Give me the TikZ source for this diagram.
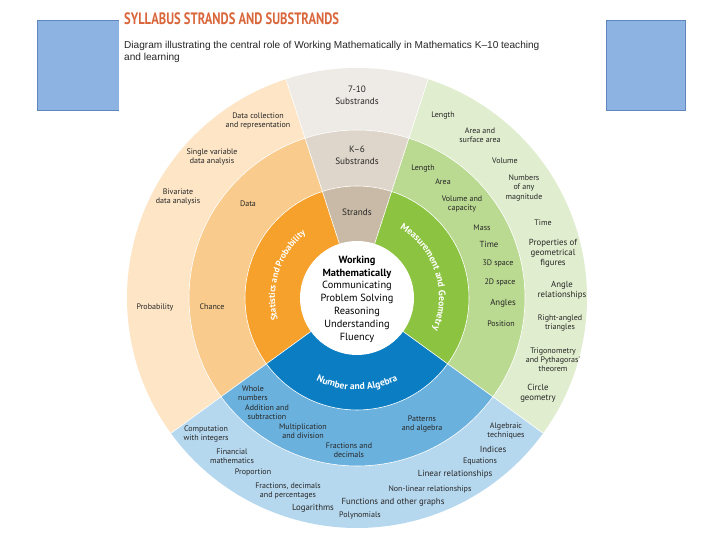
\documentclass[tikz,border=0pt]{standalone}
\usepackage{fontspec}
\setmainfont{Liberation Sans}
\newfontfamily\diagfont{PT Sans}
\usetikzlibrary{calc, decorations.text}

\definecolor{ringGrayA}{HTML}{EEEAE5}
\definecolor{ringGrayB}{HTML}{DFD6CB}
\definecolor{ringGrayC}{HTML}{C8BAA6}
\definecolor{ringOrangeA}{HTML}{FDE5C5}
\definecolor{ringOrangeB}{HTML}{F9CB8D}
\definecolor{ringOrangeC}{HTML}{F6A12B}
\definecolor{ringBlueA}{HTML}{B6D8EF}
\definecolor{ringBlueB}{HTML}{6BB1DD}
\definecolor{ringBlueC}{HTML}{0B7EC3}
\definecolor{ringGreenA}{HTML}{E0EDCE}
\definecolor{ringGreenB}{HTML}{BAD991}
\definecolor{ringGreenC}{HTML}{8CC441}
\definecolor{titleRed}{HTML}{DA673C}
\definecolor{slideBlue}{HTML}{8DB3E2}
\definecolor{slideBlueEdge}{HTML}{5F87BD}

\tikzset{
  sidebox/.style={
    draw=slideBlueEdge,
    fill=slideBlue,
    line width=0.6pt,
    inner sep=0pt,
  },
  % headline above the wheel
  titletext/.style={font=\diagfont\bfseries\fontsize{16.5}{18}\selectfont, text=titleRed, inner sep=0pt},
  subtext/.style={font=\fontsize{10.1}{12}\selectfont, text=black!85, inner sep=0pt},
  % labels on the rings
  lbl/.style={align=center, font=\diagfont\fontsize{8}{9.2}\selectfont, text=black!85, inner sep=0pt},
  lblbig/.style={lbl, font=\diagfont\fontsize{8.8}{10}\selectfont},
  graylbl/.style={lbl, font=\diagfont\fontsize{9.2}{12}\selectfont},
  centrelbl/.style={align=center, font=\diagfont\fontsize{10.4}{12.8}\selectfont, inner sep=0pt},
  ringsep/.style={draw=white, line width=0.6pt},
}

% pie slice: colour, radius, start angle, end angle
\newcommand{\wheelSlice}[4]{%
  \fill[#1] (C) -- ($(C)+(#3:#2)$) arc[start angle=#3, end angle=#4, radius=#2] -- cycle;%
}

\begin{document}
\begin{tikzpicture}[x=1pt, y=1pt]
  \useasboundingbox (0,0) rectangle (720,540);
  \fill[white] (0,0) rectangle (720,540);

  % --- slide boxes behind the picture ---
  \node[sidebox, anchor=south west, minimum width=84pt, minimum height=90pt] (leftbox) at (37,429) {};
  \node[sidebox, anchor=south west, minimum width=79pt, minimum height=90pt] (rightbox) at (605.5,429) {};
  \fill[white] (118.5,0) rectangle (605,540);

  % --- heading ---
  \node[titletext, anchor=base west] (title) at (124,515)
    {\scalebox{0.76}[1]{SYLLABUS STRANDS AND SUBSTRANDS}};
  \node[subtext, anchor=base west] (subA) at (124,491)
    {Diagram illustrating the central role of Working Mathematically in Mathematics K–10 teaching};
  \node[subtext, anchor=base west] (subB) at (124,479) {and learning};

  % --- wheel ---
  \coordinate (C) at (357,242);
  \wheelSlice{ringGrayA}{230}{72}{108}
  \wheelSlice{ringOrangeA}{230}{108}{216}
  \wheelSlice{ringBlueA}{230}{216}{324}
  \wheelSlice{ringGreenA}{230}{324}{432}
  \wheelSlice{ringGrayB}{168}{72}{108}
  \wheelSlice{ringOrangeB}{168}{108}{216}
  \wheelSlice{ringBlueB}{168}{216}{324}
  \wheelSlice{ringGreenB}{168}{324}{432}
  \wheelSlice{ringGrayC}{112}{72}{108}
  \wheelSlice{ringOrangeC}{112}{108}{216}
  \wheelSlice{ringBlueC}{112}{216}{324}
  \wheelSlice{ringGreenC}{112}{324}{432}
  \draw[ringsep] (C) circle[radius=112];
  \draw[ringsep] (C) circle[radius=168];
  \foreach \a in {72,108,216,324}
    \draw[ringsep] ($(C)+(\a:57)$) -- ($(C)+(\a:230)$);
  \fill[white] (C) circle[radius=57];

  % --- strand names on the inner ring ---
  \path[decorate, decoration={text along path, text align=center,
      text={|\diagfont\bfseries\fontsize{9}{10}\selectfont\color{white}|Statistics and Probability}}]
    ($(C)+(204:82)$) arc[start angle=204, end angle=120, radius=82];
  \path[decorate, decoration={text along path, text align=center,
      text={|\diagfont\bfseries\fontsize{9.6}{10}\selectfont\color{white}|Measurement and Geometry}}]
    ($(C)+(66:82)$) arc[start angle=66, end angle=-30, radius=82];
  \path[decorate, decoration={text along path, text align=center,
      text={|\diagfont\bfseries\fontsize{9.6}{10}\selectfont\color{white}|Number and Algebra}}]
    ($(C)+(230:92)$) arc[start angle=230, end angle=310, radius=92];

  % --- centre ---
  \node[centrelbl] (wm) at (357,241)
    {\textbf{Working}\\\textbf{Mathematically}\\Communicating\\Problem Solving\\Reasoning\\Understanding\\Fluency};

  % --- top column ---
  \node[graylbl] (sub710) at (357,445) {7-10\\Substrands};
  \node[graylbl] (subK6) at (357,385) {K–6\\Substrands};
  \node[graylbl] (strands) at (357,328) {Strands};

  % --- statistics and probability ---
  \node[lbl] (sp1) at (258,419) {Data collection\\and representation};
  \node[lbl] (sp2) at (212,383) {Single variable\\data analysis};
  \node[lbl] (sp3) at (178,343) {Bivariate\\data analysis};
  \node[lbl] (sp4) at (155,233) {Probability};
  \node[lbl] (spData) at (248,336) {Data};
  \node[lbl] (spChance) at (212,233) {Chance};

  % --- measurement and geometry ---
  \node[lbl] (mg1) at (443,424) {Length};
  \node[lbl] (mg2) at (480,405) {Area and\\surface area};
  \node[lbl] (mg3) at (505,379) {Volume};
  \node[lbl] (mg4) at (524,352) {Numbers\\of any\\magnitude};
  \node[lbl] (mg5) at (543,317) {Time};
  \node[lblbig] (mg6) at (553,287) {Properties of\\geometrical\\figures};
  \node[lblbig] (mg7) at (562,250) {Angle\\relationships};
  \node[lbl] (mg8) at (560,217) {Right-angled\\triangles};
  \node[lbl] (mg9) at (553,180) {Trigonometry\\and Pythagoras'\\theorem};
  \node[lblbig] (mg10) at (538,147) {Circle\\geometry};
  \node[lbl] (mgLength) at (423,371) {Length};
  \node[lbl] (mgArea) at (443,358) {Area};
  \node[lbl] (mgVolume) at (462,336) {Volume and\\capacity};
  \node[lbl] (mgMass) at (482,312) {Mass};
  \node[lblbig] (mgTime) at (489,296) {Time};
  \node[lbl] (mg3D) at (498,277) {3D space};
  \node[lbl] (mg2D) at (500,258) {2D space};
  \node[lblbig] (mgAngles) at (503,237) {Angles};
  \node[lbl] (mgPosition) at (501,216) {Position};

  % --- number and algebra ---
  \node[lbl] (naWhole) at (253,147) {Whole\\numbers};
  \node[lbl] (naAdd) at (267,128) {Addition and\\subtraction};
  \node[lbl] (naMult) at (303,109) {Multiplication\\and division};
  \node[lbl] (naFrac) at (349,90) {Fractions and\\decimals};
  \node[lbl] (naPatt) at (422,116) {Patterns\\and algebra};
  \node[lbl] (na1) at (206,106) {Computation\\with integers};
  \node[lbl] (na2) at (232,84) {Financial\\mathematics};
  \node[lbl] (na3) at (253,68) {Proportion};
  \node[lbl] (na4) at (288,49) {Fractions, decimals\\and percentages};
  \node[lblbig] (na5) at (313,32) {Logarithms};
  \node[lbl] (na6) at (360,25) {Polynomials};
  \node[lblbig] (na7) at (393,38) {Functions and other graphs};
  \node[lbl] (na8) at (430,51) {Non-linear relationships};
  \node[lblbig] (na9) at (455,66) {Linear relationships};
  \node[lbl] (na10) at (480,79) {Equations};
  \node[lblbig] (na11) at (493,91) {Indices};
  \node[lbl] (na12) at (506,109) {Algebraic\\techniques};
\end{tikzpicture}
\end{document}
